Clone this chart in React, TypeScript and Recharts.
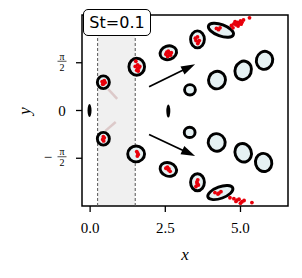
import React from "react";
import {
  ScatterChart,
  Scatter,
  XAxis,
  YAxis,
  ReferenceArea,
  ReferenceLine,
} from "recharts";

// axis setup
const xDomain = [-0.27, 6.58];
const yDomain = [-Math.PI, Math.PI];
const xTicks = [0, 2.5, 5];
const yTicks = [-Math.PI / 2, 0, Math.PI / 2];

// shaded window
const bandStart = 0.25;
const bandEnd = 1.5;

// vortex loops: centre, half-widths (data units), tilt (deg)
const loopX = [0.44, 1.55, 2.6, 3.57, 4.35, 3.32, 4.22, 5.09, 5.8, 0.44, 1.53, 2.6, 3.57, 4.33, 3.31, 4.21, 5.09, 5.77];
const loopY = [0.93, 1.44, 1.9, 2.34, 2.64, 0.68, 1.0, 1.32, 1.65, -0.93, -1.43, -1.94, -2.36, -2.7, -0.72, -1.05, -1.39, -1.71];
const loopRx = [0.2, 0.26, 0.28, 0.23, 0.44, 0.18, 0.28, 0.27, 0.27, 0.2, 0.28, 0.28, 0.23, 0.44, 0.18, 0.28, 0.27, 0.27];
const loopRy = [0.21, 0.28, 0.22, 0.28, 0.19, 0.17, 0.29, 0.31, 0.3, 0.21, 0.26, 0.22, 0.28, 0.19, 0.17, 0.29, 0.31, 0.3];
const loopTilt = [0, 0, -20, 0, 20, 0, 25, 20, 15, 0, 0, 20, 0, -20, 0, -25, -20, -15];

// small dark blobs on the axis
const blobX = [-0.02, 2.6];
const blobY = [0, -0.02];

// particles
const dotX = [
  0.4, 0.45, 0.5, 0.42, 0.47, 0.44,
  1.5, 1.58, 1.65, 1.55, 1.62, 1.52, 1.58, 1.6,
  2.52, 2.6, 2.67, 2.58, 2.7, 2.63, 2.55,
  3.52, 3.58, 3.5, 3.63, 3.57, 3.6,
  4.2, 4.27, 4.32, 4.7, 4.78, 4.85, 4.9, 4.95, 5.0, 5.05, 5.1, 4.82, 4.92, 5.02, 5.3, 4.75,
  0.42, 0.47, 0.45, 0.44,
  1.55, 1.6, 1.57, 1.58,
  2.52, 2.6, 2.66, 2.57, 2.62,
  3.55, 3.6, 3.52, 3.58, 3.56,
  4.15, 4.25, 4.35, 4.28, 4.65, 4.78, 4.88, 4.95, 5.05, 5.12, 5.38, 4.85, 5.0,
];
const dotY = [
  0.95, 0.88, 0.92, 0.86, 0.98, 0.9,
  1.45, 1.38, 1.45, 1.32, 1.4, 1.62, 1.5, 1.3,
  1.85, 1.95, 1.82, 1.78, 1.9, 1.88, 1.92,
  2.3, 2.2, 2.38, 2.3, 2.42, 2.26,
  2.7, 2.66, 2.72, 2.8, 2.85, 2.82, 2.9, 2.86, 2.95, 2.9, 2.98, 2.92, 2.78, 2.84, 3.05, 2.72,
  -0.95, -0.9, -1.0, -0.86,
  -1.35, -1.45, -1.5, -1.4,
  -1.9, -1.95, -2.0, -1.86, -1.92,
  -2.35, -2.45, -2.5, -2.28, -2.4,
  -2.7, -2.75, -2.67, -2.72, -2.87, -2.9, -2.95, -2.92, -3.0, -2.96, -3.03, -2.99, -3.05,
];

// arrows (start -> end)
const arrowFromX = [1.96, 1.96];
const arrowFromY = [0.78, -0.79];
const arrowToX = [3.49, 3.49];
const arrowToY = [1.52, -1.5];

// faint trails
const trailFromX = [0.6, 0.5, 4.55, 4.45];
const trailFromY = [0.7, -0.68, 2.55, -2.6];
const trailToX = [0.9, 0.85, 4.25, 4.3];
const trailToY = [0.38, -0.38, 2.8, -2.85];

const loops = loopX.map((x, i) => ({ x, y: loopY[i], rx: loopRx[i], ry: loopRy[i], tilt: loopTilt[i] }));
const blobs = blobX.map((x, i) => ({ x, y: blobY[i] }));
const dots = dotX.map((x, i) => ({ x, y: dotY[i] }));

const W = 302;
const H = 278;
const LEFT = 82;
const RIGHT = 14;
const TOP = 15;
const BOTTOM = 72;
const kx = (W - LEFT - RIGHT) / (xDomain[1] - xDomain[0]);
const ky = (H - TOP - BOTTOM) / (yDomain[1] - yDomain[0]);

const serif = "'Liberation Serif', 'DejaVu Serif', serif";

const LoopShape = (props: any) => {
  const { cx, cy, payload } = props;
  return (
    <ellipse
      cx={cx}
      cy={cy}
      rx={payload.rx * kx}
      ry={payload.ry * ky}
      transform={`rotate(${payload.tilt} ${cx} ${cy})`}
      fill="#e5f1f3"
      stroke="#000"
      strokeWidth={2.9}
    />
  );
};

const BlobShape = (props: any) => (
  <ellipse cx={props.cx} cy={props.cy} rx={2} ry={6.5} fill="#000" />
);

const DotShape = (props: any) => (
  <circle cx={props.cx} cy={props.cy} r={1.9} fill="#e8000b" />
);

const Arrow = (props: any) => {
  const { x1, y1, x2, y2 } = props;
  const a = Math.atan2(y2 - y1, x2 - x1);
  const len = 14;
  const hw = 4.5;
  const bx = x2 - len * Math.cos(a);
  const by = y2 - len * Math.sin(a);
  const px = -Math.sin(a) * hw;
  const py = Math.cos(a) * hw;
  return (
    <g>
      <line x1={x1} y1={y1} x2={bx + 2 * Math.cos(a)} y2={by + 2 * Math.sin(a)} stroke="#000" strokeWidth={1.8} />
      <polygon points={`${x2},${y2} ${bx + px},${by + py} ${bx - px},${by - py}`} fill="#000" />
    </g>
  );
};

const XTick = (props: any) => {
  const { x, payload } = props;
  return (
    <text x={x} y={233} textAnchor="middle" fontFamily={serif} fontSize={15} fill="#000">
      {payload.value.toFixed(1)}
    </text>
  );
};

const YTick = (props: any) => {
  const { y, payload } = props;
  const v = payload.value;
  if (Math.abs(v) < 1e-6) {
    return (
      <text x={62} y={y + 5} textAnchor="middle" fontFamily={serif} fontSize={15} fill="#000">
        0
      </text>
    );
  }
  return (
    <g>
      {v < 0 && (
        <text x={48} y={y + 4} textAnchor="middle" fontFamily={serif} fontSize={15} fill="#000">
          −
        </text>
      )}
      <text x={62} y={y - 3} textAnchor="middle" fontFamily={serif} fontSize={10} fill="#000">
        π
      </text>
      <line x1={57.5} x2={66.5} y1={y - 1.5} y2={y - 1.5} stroke="#000" strokeWidth={0.7} />
      <text x={62} y={y + 8} textAnchor="middle" fontFamily={serif} fontSize={10} fill="#000">
        2
      </text>
    </g>
  );
};

const XTitle = () => (
  <text x={185} y={260} textAnchor="middle" fontFamily={serif} fontStyle="italic" fontSize={17} fill="#000">
    x
  </text>
);

const YTitle = () => (
  <text
    x={25}
    y={111}
    textAnchor="middle"
    fontFamily={serif}
    fontStyle="italic"
    fontSize={17}
    fill="#000"
    transform="rotate(-90 25 111)"
    dy={5}
  >
    y
  </text>
);

export default function App() {
  return (
    <div style={{ position: "absolute", left: 0, top: 0, width: W, height: H, background: "#fff" }}>
      <ScatterChart width={W} height={H} margin={{ top: TOP, right: RIGHT, left: 0, bottom: 0 }}>
        <XAxis
          type="number"
          dataKey="x"
          domain={xDomain}
          ticks={xTicks}
          allowDataOverflow
          axisLine={false}
          tickLine={{ stroke: "#000", strokeWidth: 1.3 }}
          tickSize={6}
          tick={<XTick />}
          height={BOTTOM}
          label={<XTitle />}
        />
        <YAxis
          type="number"
          dataKey="y"
          domain={yDomain}
          ticks={yTicks}
          allowDataOverflow
          axisLine={false}
          tickLine={{ stroke: "#000", strokeWidth: 1.3 }}
          tickSize={6}
          tick={<YTick />}
          width={LEFT}
          label={<YTitle />}
        />
        <ReferenceArea x1={bandStart} x2={bandEnd} y1={yDomain[0]} y2={yDomain[1]} fill="#f0f0f0" fillOpacity={1} stroke="none" />
        <ReferenceLine x={bandStart} stroke="#555" strokeDasharray="3 2" strokeWidth={1} />
        <ReferenceLine x={bandEnd} stroke="#555" strokeDasharray="3 2" strokeWidth={1} />
        {trailFromX.map((x, i) => (
          <ReferenceLine
            key={`t${i}`}
            segment={[{ x, y: trailFromY[i] }, { x: trailToX[i], y: trailToY[i] }]}
            stroke="#b07070"
            strokeOpacity={0.3}
            strokeWidth={2.5}
          />
        ))}
        <Scatter data={loops} shape={<LoopShape />} isAnimationActive={false} />
        <Scatter data={blobs} shape={<BlobShape />} isAnimationActive={false} />
        <Scatter data={dots} shape={<DotShape />} isAnimationActive={false} />
        {arrowFromX.map((x, i) => (
          <ReferenceLine
            key={`a${i}`}
            segment={[{ x, y: arrowFromY[i] }, { x: arrowToX[i], y: arrowToY[i] }]}
            shape={<Arrow />}
          />
        ))}
        <ReferenceArea
          x1={xDomain[0]}
          x2={xDomain[1]}
          y1={yDomain[0]}
          y2={yDomain[1]}
          fill="none"
          stroke="#000"
          strokeWidth={1.5}
        />
      </ScatterChart>
      <div
        style={{
          position: "absolute",
          left: 83,
          top: 9,
          width: 68,
          height: 27,
          boxSizing: "border-box",
          border: "1.5px solid #000",
          borderRadius: 5,
          background: "#fff",
          fontFamily: "'DejaVu Sans', sans-serif",
          fontSize: 16,
          display: "flex",
          alignItems: "center",
          justifyContent: "center",
          zIndex: 2,
        }}
      >
        St=0.1
      </div>
    </div>
  );
}
